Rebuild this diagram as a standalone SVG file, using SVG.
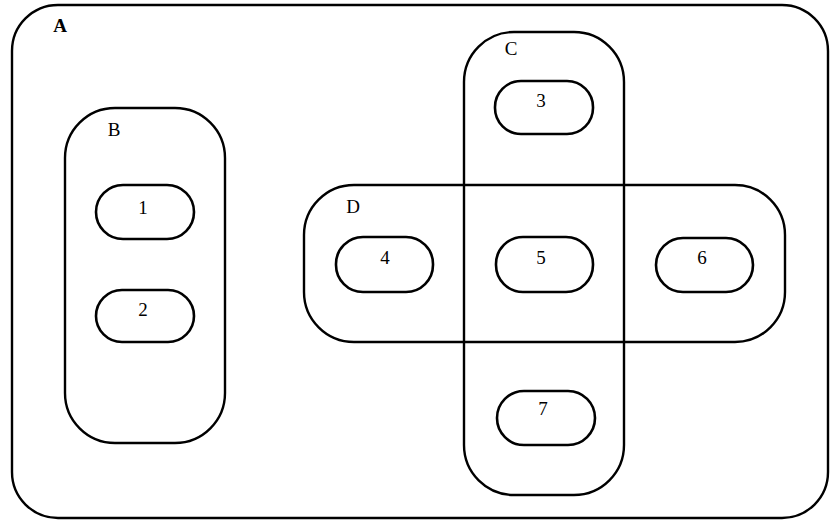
<svg xmlns="http://www.w3.org/2000/svg" width="830" height="522" viewBox="0 0 830 522">
<style>
  .set { fill: none; stroke: #000; stroke-width: 2.4; }
  .node { fill: none; stroke: #000; stroke-width: 2.6; }
  .lbl { font-family: "Liberation Serif", "Times New Roman", serif; font-size: 19px; fill: #000; text-anchor: middle; }
  .big { font-weight: bold; }
</style>
<rect width="830" height="522" fill="#fff"/>
<g id="A">
  <rect class="set" x="12" y="5" width="816" height="513" rx="46" ry="46"/>
  <text class="lbl big" x="60" y="32">A</text>
</g>
<g id="B">
  <rect class="set" x="65" y="108" width="160" height="335" rx="50" ry="50"/>
  <text class="lbl" x="114" y="136">B</text>
</g>
<g id="C">
  <rect class="set" x="464" y="32" width="160" height="463" rx="50" ry="50"/>
  <text class="lbl" x="511" y="55">C</text>
</g>
<g id="D">
  <rect class="set" x="304" y="185" width="481" height="157" rx="50" ry="50"/>
  <text class="lbl" x="353" y="213">D</text>
</g>
<g id="n1">
  <rect class="node" x="96" y="185" width="98" height="54" rx="27" ry="27"/>
  <text class="lbl" x="143" y="214">1</text>
</g>
<g id="n2">
  <rect class="node" x="96" y="290" width="98" height="52" rx="26" ry="26"/>
  <text class="lbl" x="143" y="316">2</text>
</g>
<g id="n3">
  <rect class="node" x="495" y="81" width="98" height="53" rx="26" ry="26"/>
  <text class="lbl" x="541" y="107">3</text>
</g>
<g id="n4">
  <rect class="node" x="336" y="237" width="97" height="55" rx="27" ry="27"/>
  <text class="lbl" x="385" y="264">4</text>
</g>
<g id="n5">
  <rect class="node" x="496" y="237" width="97" height="55" rx="27" ry="27"/>
  <text class="lbl" x="541" y="264">5</text>
</g>
<g id="n6">
  <rect class="node" x="656" y="238" width="97" height="54" rx="27" ry="27"/>
  <text class="lbl" x="702" y="264">6</text>
</g>
<g id="n7">
  <rect class="node" x="497" y="391" width="98" height="54" rx="27" ry="27"/>
  <text class="lbl" x="543" y="415">7</text>
</g>
<g id="connectors"></g>
</svg>
